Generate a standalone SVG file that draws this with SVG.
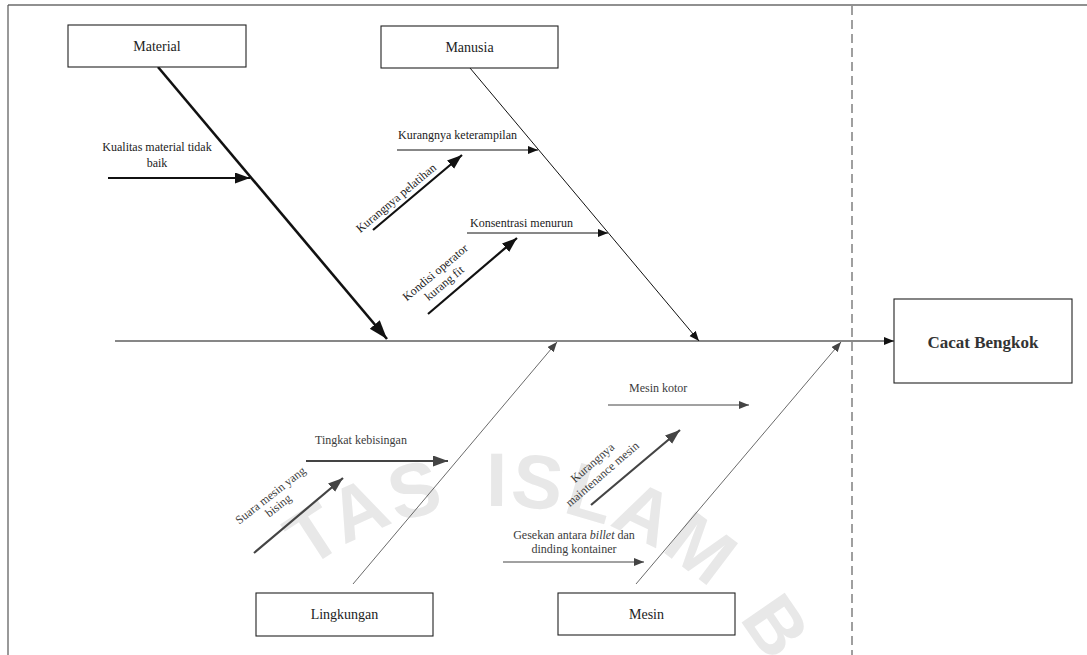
<svg xmlns="http://www.w3.org/2000/svg" width="1087" height="655" viewBox="0 0 1087 655">
<style>
  .box { fill: #fff; stroke: #222; stroke-width: 1.1; }
  .lbl { font-family: "Liberation Serif", "Times New Roman", serif; font-size: 14px; fill: #222; text-anchor: middle; }
  .sm { font-family: "Liberation Serif", "Times New Roman", serif; font-size: 12px; fill: #222; }
  .smg { font-family: "Liberation Serif", "Times New Roman", serif; font-size: 12px; fill: #3c3c3c; }
  .mid { text-anchor: middle; }
  .k { fill: none; stroke: #111; }
  .g { fill: none; stroke: #444; }
  .wm { font-family: "Liberation Sans", Arial, sans-serif; font-weight: bold; font-size: 76px; fill: #e8e8e8; letter-spacing: 2px; word-spacing: 16px; }
</style>
<defs>
  <marker id="aks" markerUnits="userSpaceOnUse" markerWidth="11" markerHeight="9" refX="10" refY="4" orient="auto"><path d="M0,0 L10,4 L0,8 z" fill="#111"/></marker>
  <marker id="akm" markerUnits="userSpaceOnUse" markerWidth="16" markerHeight="12" refX="15" refY="5.5" orient="auto"><path d="M0,0 L15,5.5 L0,11 z" fill="#111"/></marker>
  <marker id="akb" markerUnits="userSpaceOnUse" markerWidth="20" markerHeight="14" refX="19" refY="6.5" orient="auto"><path d="M0,0 L19,6.5 L0,13 z" fill="#111"/></marker>
  <marker id="ags" markerUnits="userSpaceOnUse" markerWidth="11" markerHeight="9" refX="10" refY="4" orient="auto"><path d="M0,0 L10,4 L0,8 z" fill="#444"/></marker>
  <marker id="agm" markerUnits="userSpaceOnUse" markerWidth="16" markerHeight="12" refX="15" refY="5.5" orient="auto"><path d="M0,0 L15,5.5 L0,11 z" fill="#444"/></marker>
  <path id="wmarc" d="M184,819 A313,313 0 0 1 810,819"/>
</defs>

<rect x="0" y="0" width="1087" height="655" fill="#fff"/>

<!-- watermark -->
<text class="wm"><textPath href="#wmarc" startOffset="556" text-anchor="middle">TAS ISLAM B</textPath></text>

<!-- frame -->
<g id="frame">
  <line x1="8" y1="5" x2="1087" y2="5" stroke="#222" stroke-width="1.2"/>
  <line x1="8" y1="5" x2="8" y2="655" stroke="#555" stroke-width="1.2"/>
  <line x1="852" y1="6" x2="852" y2="655" stroke="#808080" stroke-width="1.5" stroke-dasharray="9 5"/>
</g>

<!-- connectors -->
<g id="connectors">
  <line class="k" x1="115" y1="341" x2="894" y2="341" stroke="#333" stroke-width="1.2" marker-end="url(#aks)"/>
  <line class="k" x1="158" y1="67" x2="387" y2="339" stroke-width="2.6" marker-end="url(#akb)"/>
  <line class="k" x1="108" y1="178" x2="250" y2="178" stroke-width="2" marker-end="url(#akm)"/>
  <line class="k" x1="470" y1="68" x2="699" y2="341" stroke-width="1" marker-end="url(#aks)"/>
  <line class="k" x1="397" y1="150" x2="538" y2="150" stroke-width="1" marker-end="url(#aks)"/>
  <line class="k" x1="373" y1="230" x2="462" y2="155" stroke-width="2.2" marker-end="url(#akm)"/>
  <line class="k" x1="467" y1="233" x2="608" y2="233" stroke-width="1" marker-end="url(#aks)"/>
  <line class="k" x1="428" y1="314" x2="517" y2="238" stroke-width="2.2" marker-end="url(#akm)"/>

  <line class="g" x1="353" y1="584" x2="557" y2="342" stroke-width="0.8" marker-end="url(#ags)"/>
  <line class="g" x1="306" y1="461" x2="448" y2="461" stroke-width="2.2" marker-end="url(#agm)"/>
  <line class="g" x1="254" y1="553" x2="343" y2="478" stroke-width="2.2" marker-end="url(#agm)"/>
  <line class="g" x1="636" y1="584" x2="841" y2="342" stroke-width="0.8" marker-end="url(#ags)"/>
  <line class="g" x1="608" y1="405" x2="749" y2="405" stroke-width="1" marker-end="url(#ags)"/>
  <line class="g" x1="591" y1="505" x2="680" y2="430" stroke-width="2.2" marker-end="url(#agm)"/>
  <line class="g" x1="503" y1="562" x2="644" y2="562" stroke-width="1" marker-end="url(#ags)"/>
</g>

<!-- nodes -->
<g id="material">
  <rect class="box" x="68" y="25" width="178" height="42"/>
  <text class="lbl" x="157" y="51">Material</text>
</g>
<g id="manusia">
  <rect class="box" x="381" y="26" width="177" height="42"/>
  <text class="lbl" x="469.5" y="52">Manusia</text>
</g>
<g id="lingkungan">
  <rect class="box" x="256" y="593" width="177" height="43"/>
  <text class="lbl" x="344.5" y="619">Lingkungan</text>
</g>
<g id="mesin">
  <rect class="box" x="558" y="593" width="177" height="42"/>
  <text class="lbl" x="646.5" y="619">Mesin</text>
</g>
<g id="cacat-bengkok">
  <rect class="box" x="894" y="299" width="178" height="84"/>
  <text x="983" y="348" font-family="Liberation Serif, Times New Roman, serif" font-size="17" font-weight="bold" fill="#333" text-anchor="middle">Cacat Bengkok</text>
</g>

<!-- cause labels -->
<g id="kualitas">
  <text class="sm mid" x="157" y="151">Kualitas material tidak</text>
  <text class="sm mid" x="157" y="167">baik</text>
</g>
<g id="keterampilan">
  <text class="sm" x="398" y="139">Kurangnya keterampilan</text>
</g>
<g id="pelatihan">
  <text class="sm mid" transform="translate(396,198) rotate(-40)" y="4">Kurangnya pelatihan</text>
</g>
<g id="konsentrasi">
  <text class="sm" x="470" y="227">Konsentrasi menurun</text>
</g>
<g id="kondisi">
  <text class="sm mid" transform="translate(439,277) rotate(-40)"><tspan x="0" y="-2">Kondisi operator</tspan><tspan x="0" y="12">kurang fit</tspan></text>
</g>
<g id="kebisingan">
  <text class="smg" x="315" y="444">Tingkat kebisingan</text>
</g>
<g id="suara">
  <text class="smg mid" transform="translate(274,500) rotate(-38)"><tspan x="0" y="-2">Suara mesin yang</tspan><tspan x="0" y="11">bising</tspan></text>
</g>
<g id="kotor">
  <text class="smg" x="629" y="392">Mesin kotor</text>
</g>
<g id="maintenance">
  <text class="smg mid" transform="translate(597,468) rotate(-41)"><tspan x="0" y="-3">Kurangnya</tspan><tspan x="0" y="12">maintenance mesin</tspan></text>
</g>
<g id="gesekan">
  <text class="smg mid" x="574" y="539">Gesekan antara <tspan font-style="italic">billet</tspan> dan</text>
  <text class="smg mid" x="574" y="553">dinding kontainer</text>
</g>
</svg>
